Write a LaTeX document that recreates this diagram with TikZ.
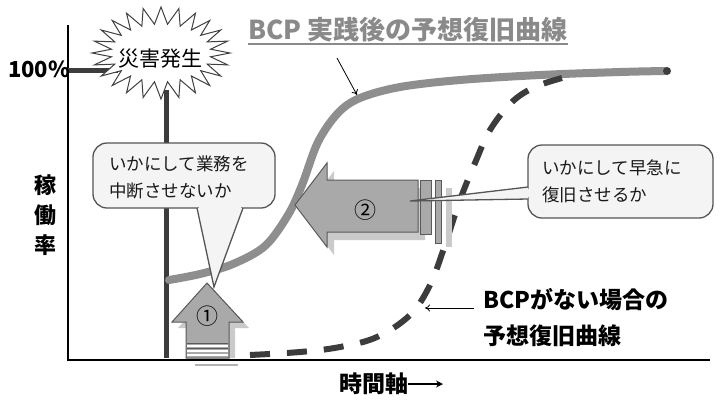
\documentclass[tikz,border=0pt]{standalone}
\usepackage{fontspec}
\setmainfont{Noto Sans CJK JP}
\usetikzlibrary{arrows.meta}
\definecolor{curvegray}{HTML}{8E8E8E}
\definecolor{arrowfill}{HTML}{A9A9A9}
\definecolor{arrowshade}{HTML}{CACACA}
\definecolor{arrowedge}{HTML}{5A5A5A}
\definecolor{boxfill}{HTML}{F4F4F4}
\definecolor{boxedge}{HTML}{555555}
\definecolor{darkline}{HTML}{3C3C3C}
\definecolor{labelgray}{HTML}{8A8A8A}
\tikzset{
  axisline/.style={line width=2pt, draw=black},
  markline/.style={line width=5pt, draw=darkline},
  calloutbox/.style={draw=boxedge, fill=boxfill, line width=1.3pt},
  bigarrow/.style={draw=arrowedge, fill=arrowfill, line width=1pt},
  arrowshadow/.style={fill=arrowshade},
  bcpcurve/.style={line width=8pt, draw=curvegray, line cap=round},
  nocurve/.style={line width=6pt, draw=darkline, dash pattern=on 20pt off 17pt},
  thinpointer/.style={draw=black, line width=0.8pt, -{To[length=5pt,width=7pt]}},
  calltext/.style={font=\fontsize{17.5}{27}\selectfont, align=left, inner sep=0pt, text=black!90},
  boldlabel/.style={font=\bfseries\fontsize{23}{36}\selectfont, align=left, inner sep=0pt},
}
\begin{document}
\begin{tikzpicture}[x=1pt,y=-1pt]
\useasboundingbox (0,0) rectangle (720,400);
\fill[white] (0,0) rectangle (720,400);

% axes
\coordinate (origin) at (68,360);
\coordinate (ytop) at (68,25);
\coordinate (xend) at (710,360);
\draw[axisline] (ytop) -- (origin) -- (xend);

% 100% marker line and disaster time line
\coordinate (pctleft) at (68,70);
\coordinate (pctright) at (118,70);
\draw[markline] (pctleft) -- (pctright);
\coordinate (burstbot) at (166,90);
\coordinate (timebase) at (166,358);
\draw[markline] (burstbot) -- (timebase);

% BCP recovery curve
\draw[bcpcurve] plot[smooth, tension=0.55] coordinates {(169,280) (200,274) (233,264) (265,246) (288,215) (302,185) (318,142) (338,113) (360,98) (400,87) (460,80) (540,75) (620,72) (665,71)};
\fill[darkline] (667,71) circle (4);

% no-BCP curve
\draw[nocurve] plot[smooth, tension=0.6] coordinates {(250,355) (300,352) (340,347) (377,337) (410,315) (430,285) (445,245) (460,200) (475,163) (490,130) (512,102) (535,87) (562,78)};

% starburst
\draw[line width=1pt, draw=black!75, fill=white] plot[samples=49, domain=0:48, variable=\k]
  ({161+ifthenelse(mod(round(\k),2)==0,69,50)*cos(\k*7.5)}, {53+ifthenelse(mod(round(\k),2)==0,46,29)*sin(\k*7.5)}) -- cycle;
\node[font=\fontsize{21}{21}\selectfont, inner sep=0pt] (disaster) at (160,59) {災害発生};

% callout 1
\draw[calloutbox, rounded corners=14pt] (93,143) rectangle (275,208);
\draw[calloutbox] (197,208) -- (214,287) -- (243,208);
\fill[boxfill] (199,203) rectangle (241,210.5);
\node[calltext] (call1) at (179,177) {いかにして業務を\\中断させないか};

% arrow 1
\fill[arrowshadow] (213,289) -- (249,328) -- (235,328) -- (235,358) -- (192,358) -- (192,328) -- (178,328) -- cycle;
\draw[bigarrow] (207,283) -- (243,322) -- (229,322) -- (229,358) -- (186,358) -- (186,322) -- (172,322) -- cycle;
\draw[white, line width=1.3pt] (187,346) -- (228,346) (187,351) -- (228,351) (187,355) -- (228,355);
\draw[arrowedge, line width=0.8pt] (187,343) -- (228,343) (187,348.5) -- (228,348.5);
\draw[black!30, line width=1.5pt] (195,365) -- (238,365);
\node[font=\fontsize{22}{22}\selectfont, inner sep=0pt] (one) at (207,316) {①};

% arrow 2
\fill[arrowshadow] (302,213) -- (334,171) -- (334,188) -- (425,188) -- (425,240) -- (334,240) -- (334,255) -- cycle;
\draw[bigarrow] (295,205) -- (327,163) -- (327,180) -- (418,180) -- (418,232) -- (327,232) -- (327,247) -- cycle;
\draw[bigarrow] (420,180) rectangle (431,234);
\draw[bigarrow] (435,180) rectangle (441,243);
\draw[arrowshadow, draw=arrowshade, line width=1pt] (446,188) rectangle (451,246);
\node[font=\fontsize{22}{22}\selectfont, inner sep=0pt] (two) at (365,210) {②};

% callout 2
\draw[calloutbox, rounded corners=14pt] (528,145) rectangle (713,218);
\draw[calloutbox] (528,187) -- (410,201) -- (528,199);
\fill[boxfill] (525,189) rectangle (534,197);
\node[calltext] (call2) at (612,181) {いかにして早急に\\復旧させるか};

% labels
\node[font=\bfseries\fontsize{22}{22}\selectfont, anchor=west, inner sep=0pt] (pct) at (8,69) {100\%};
\node[font=\bfseries\fontsize{26}{26}\selectfont, text=labelgray, anchor=west, inner sep=0pt] (bcplbl) at (248,30) {BCP 実践後の予想復旧曲線};
\draw[labelgray, line width=2pt] ([yshift=-4pt]bcplbl.base west) -- ([yshift=-4pt]bcplbl.base east);
\coordinate (bcptail) at (337,58);
\coordinate (bcphead) at (357,95);
\draw[thinpointer] (bcptail) -- (bcphead);

\node[boldlabel, anchor=west] (nolbl) at (483,318) {BCPがない場合の\\予想復旧曲線};
\coordinate (notail) at (474,308);
\coordinate (nohead) at (425,308);
\draw[thinpointer] (notail) -- (nohead);

\node[font=\bfseries\fontsize{22}{30}\selectfont, align=center, inner sep=0pt] (ylbl) at (45,215) {稼\\働\\率};
\node[font=\bfseries\fontsize{23}{23}\selectfont, anchor=west, inner sep=0pt] (xlbl) at (339,384) {時間軸};
\coordinate (xarrowend) at (443,384);
\draw[line width=2pt, -{Stealth[length=7pt,width=7pt]}] (xlbl.east) -- (xarrowend);
\end{tikzpicture}
\end{document}
